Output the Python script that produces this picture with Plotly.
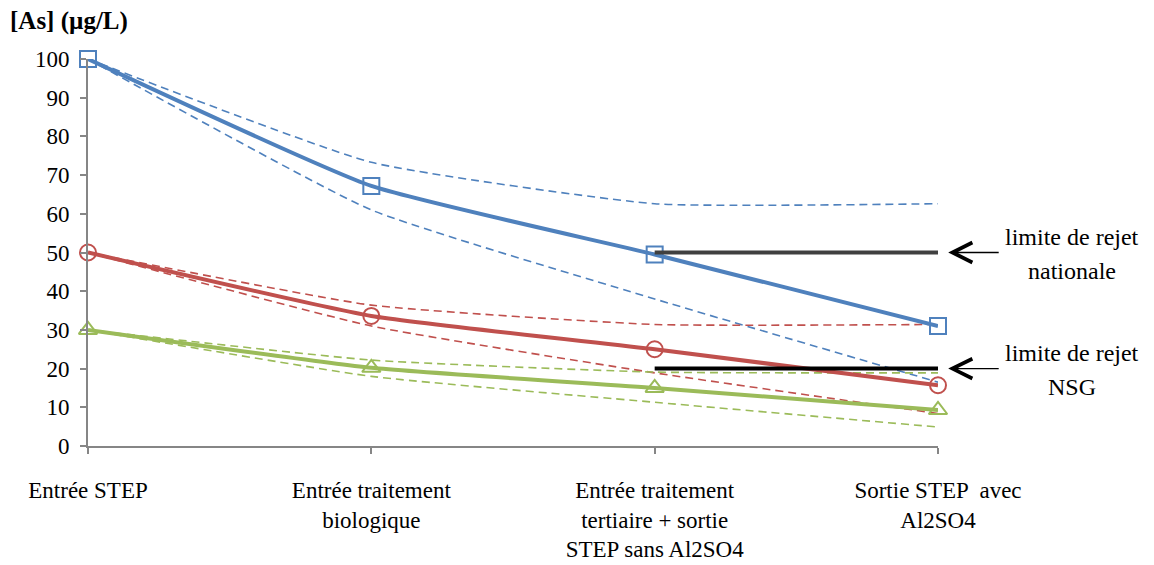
import plotly.graph_objects as go

# Etapes de traitement (axe des x)
etapes = ['Entrée STEP', 'Entrée traitement<br>biologique',
          'Entrée traitement<br>tertiaire + sortie<br>STEP sans Al2SO4',
          'Sortie STEP  avec<br>Al2SO4']
x = list(range(len(etapes)))

# Concentrations en arsenic (µg/L)
bleu = [100, 67.2, 49.5, 31.0]
bleu_haut = [100, 73.3, 62.6, 62.6]
bleu_bas = [100, 61.0, 38.0, 16.5]
rouge = [50, 33.6, 25.0, 15.7]
rouge_haut = [50, 36.4, 31.4, 31.4]
rouge_bas = [50, 31.0, 18.9, 8.4]
vert = [30, 20.2, 15.0, 9.3]
vert_haut = [30, 22.2, 19.1, 18.9]
vert_bas = [30, 18.0, 11.3, 4.9]

# Limites de rejet (µg/L), tracées entre les deux dernières étapes
limite_nationale = [50, 50]
limite_nsg = [20, 20]
x_limites = [2, 3]

BLEU = '#4F81BD'
ROUGE = '#C0504D'
VERT = '#9BBB59'
POLICE = 'Liberation Serif'
TAILLE = 23
LISSAGE = 0.45

fig = go.Figure()

# Courbes min / max en pointillés
for y, couleur in [(bleu_haut, BLEU), (bleu_bas, BLEU), (rouge_haut, ROUGE),
                   (rouge_bas, ROUGE), (vert_haut, VERT), (vert_bas, VERT)]:
    fig.add_trace(go.Scatter(
        x=x, y=y, mode='lines',
        line=dict(color=couleur, width=1.6, dash='8px,5px', shape='spline', smoothing=LISSAGE),
        hoverinfo='skip'
    ))

# Courbes moyennes avec marqueurs
for y, couleur, symbole in [(bleu, BLEU, 'square-open'), (rouge, ROUGE, 'circle-open'),
                            (vert, VERT, 'triangle-up-open')]:
    fig.add_trace(go.Scatter(
        x=x, y=y, mode='lines+markers',
        line=dict(color=couleur, width=4, shape='spline', smoothing=LISSAGE),
        marker=dict(symbol=symbole, size=16, color=couleur, line=dict(width=2, color=couleur)),
        cliponaxis=False
    ))

# Limites de rejet
fig.add_trace(go.Scatter(x=x_limites, y=limite_nationale, mode='lines',
                         line=dict(color='#404040', width=4), cliponaxis=False))
fig.add_trace(go.Scatter(x=x_limites, y=limite_nsg, mode='lines',
                         line=dict(color='#000000', width=4), cliponaxis=False))

# Flèches et textes des limites
for y_lim, lignes in [(limite_nationale[0], ['limite de rejet', 'nationale']),
                      (limite_nsg[0], ['limite de rejet', 'NSG'])]:
    fig.add_annotation(x=1.012, xref='paper', y=y_lim, yref='y', text='',
                       showarrow=True, arrowhead=5, arrowsize=3, arrowwidth=1.3,
                       arrowcolor='black', ax=52, ay=0, standoff=0)
    fig.add_annotation(x=1.158, xref='paper', y=y_lim, yref='y', text=lignes[0],
                       xanchor='center', showarrow=False, yshift=16,
                       font=dict(family=POLICE, size=24, color='black'))
    fig.add_annotation(x=1.158, xref='paper', y=y_lim, yref='y', text=lignes[1],
                       xanchor='center', showarrow=False, yshift=-18,
                       font=dict(family=POLICE, size=24, color='black'))

fig.update_layout(
    width=1154, height=565,
    margin=dict(l=80, r=224, t=51, b=127),
    paper_bgcolor='white', plot_bgcolor='white',
    showlegend=False,
    font=dict(family=POLICE, size=TAILLE, color='black'),
    title=dict(text='<b>[As] (µg/L)</b>', xref='container', yref='container',
               x=2 / 1154, xanchor='left', y=1 - 12 / 565, yanchor='middle',
               font=dict(family=POLICE, size=25, color='black')),
    xaxis=dict(range=[0, 3], tickvals=x, ticktext=etapes, showgrid=False, zeroline=False,
               showline=True, linecolor='#868686', linewidth=2, automargin=False,
               ticks='outside', ticklen=6, tickcolor='#868686', tickwidth=2,
               ticklabelstandoff=16, tickfont=dict(family=POLICE, size=TAILLE)),
    yaxis=dict(range=[0, 100], dtick=10, showgrid=False, zeroline=False,
               showline=True, linecolor='#868686', linewidth=2, automargin=False,
               ticks='outside', ticklen=6, tickcolor='#868686', tickwidth=2,
               ticklabelstandoff=6, tickfont=dict(family=POLICE, size=TAILLE)),
)

fig.write_html('out.html')
